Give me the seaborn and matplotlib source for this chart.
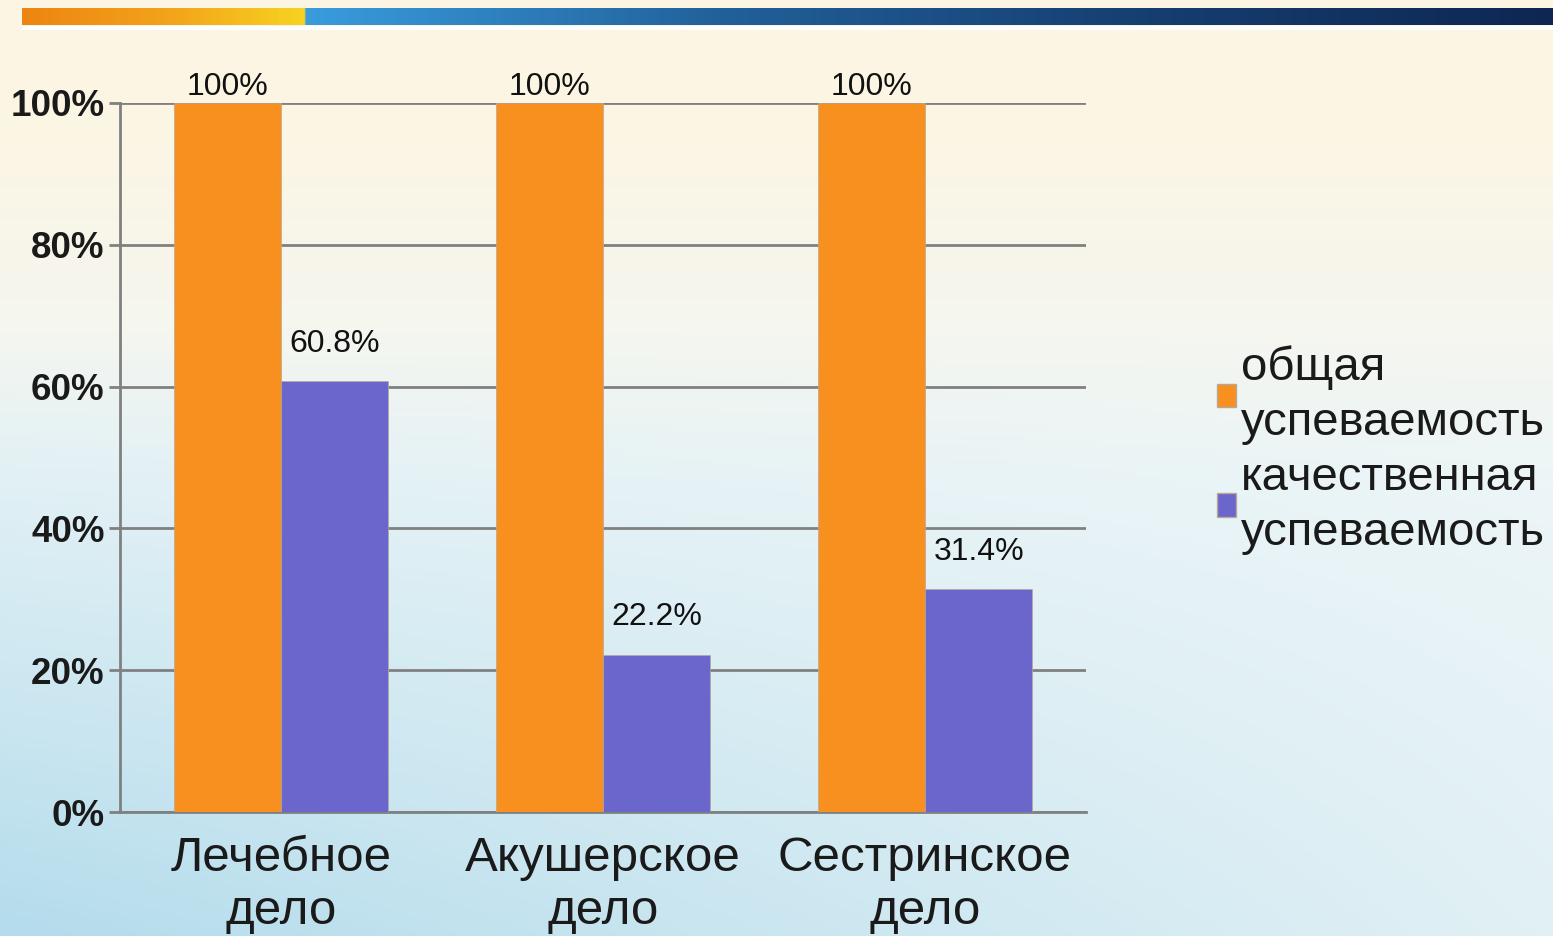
import numpy as np
import pandas as pd
import seaborn as sns
import matplotlib
matplotlib.use('Agg')
import matplotlib.pyplot as plt
from matplotlib.colors import LinearSegmentedColormap
from matplotlib.patches import Patch

categories = ['Лечебное\nдело', 'Акушерское\nдело', 'Сестринское\nдело']
series = ['общая\nуспеваемость', 'качественная\nуспеваемость']
total_vals = [100, 100, 100]
quality_vals = [60.8, 22.2, 31.4]
yticks = [0, 20, 40, 60, 80, 100]

orange = '#F7901E'
purple = '#6B66CC'

df = pd.DataFrame({
    'cat': categories * 2,
    'series': [series[0]] * 3 + [series[1]] * 3,
    'val': total_vals + quality_vals,
})

sns.set_style('white')
plt.rcParams['font.family'] = ['Liberation Sans', 'DejaVu Sans']

fig = plt.figure(figsize=(15.53, 9.36), dpi=100)

# background: cream at top fading to pale blue-white, stronger blue bottom-left
bg = fig.add_axes([0, 0, 1, 1], zorder=-5)
h, w = 200, 320
yy, xx = np.mgrid[0:1:h * 1j, 0:1:w * 1j]
cream = np.array([252, 245, 227]) / 255
pale = np.array([240, 247, 248]) / 255
blue = np.array([180, 220, 236]) / 255
t1 = np.clip((yy - 0.12) / 0.4, 0, 1)[..., None]
base = cream * (1 - t1) + pale * t1
t2 = (np.clip((yy - 0.35) / 0.65, 0, 1) * np.clip(1.0 - 0.75 * xx, 0, 1))[..., None]
img = base * (1 - t2) + blue * t2
bg.imshow(img, aspect='auto', extent=[0, 1, 0, 1], origin='upper')
bg.set_xlim(0, 1)
bg.set_ylim(0, 1)
bg.axis('off')

# header strip
hd = fig.add_axes([22 / 1553, 1 - 25 / 936, 1 - 22 / 1553, 17 / 936], zorder=-4)
cm_o = LinearSegmentedColormap.from_list('o', ['#EE8512', '#F2A21A', '#F8D321'])
cm_b = LinearSegmentedColormap.from_list('b', ['#3A9CDD', '#21609A', '#163F72', '#0E2752'])
split = (305 - 22) / (1553 - 22)
xs = np.linspace(0, 1, 600)
strip = np.where(xs[:, None] < split,
                 cm_o(np.clip(xs / split, 0, 1))[:, :3],
                 cm_b(np.clip((xs - split) / (1 - split), 0, 1))[:, :3])
hd.imshow(strip[None, :, :], aspect='auto', extent=[0, 1, 0, 1])
hd.axis('off')
wl = fig.add_axes([22 / 1553, 1 - 30 / 936, 1 - 22 / 1553, 4 / 936], zorder=-4)
wl.set_facecolor('white')
wl.set_xticks([])
wl.set_yticks([])
for s in wl.spines.values():
    s.set_visible(False)

ax = fig.add_axes([120 / 1553, 1 - 812 / 936, (1086 - 120) / 1553, (812 - 103) / 936])
ax.patch.set_alpha(0)

sns.barplot(data=df, x='cat', y='val', hue='series', palette=[orange, purple],
            saturation=1, width=2 / 3, ax=ax, legend=False, zorder=3,
            edgecolor='#b8a898', linewidth=0.5)

ax.set_xlim(-0.5, 2.5)
ax.set_ylim(0, 100)
ax.set_yticks(yticks)
ax.set_yticklabels([f'{v}%' for v in yticks], fontsize=26.5, fontweight='bold', color='#1a1a1a')
ax.yaxis.grid(True, color='#808080', linewidth=2, zorder=0)
ax.set_axisbelow(True)
ax.set_xlabel('')
ax.set_ylabel('')
ax.tick_params(axis='x', which='major', length=0, labelsize=35.5, pad=17, labelcolor='#1a1a1a')
ax.set_xticks([-0.5, 0.5, 1.5, 2.5], minor=True)
ax.tick_params(axis='x', which='minor', length=8, width=2, color='#808080', direction='out')
ax.tick_params(axis='y', length=8, width=2, color='#808080', direction='out', pad=3, left=True)
for lab in ax.get_xticklabels():
    lab.set_linespacing(1.25)

for side in ['top', 'right']:
    ax.spines[side].set_visible(False)
for side in ['left', 'bottom']:
    ax.spines[side].set_color('#808080')
    ax.spines[side].set_linewidth(2)

c0, c1 = ax.containers[0], ax.containers[1]
ax.bar_label(c0, labels=[f'{v:g}%' for v in total_vals], padding=1, fontsize=23, color='#111111')
ax.bar_label(c1, labels=[f'{v:.1f}%' for v in quality_vals], padding=16, fontsize=23, color='#111111')

handles = [Patch(facecolor=orange, edgecolor='#b8a898'), Patch(facecolor=purple, edgecolor='#b8a898')]
leg = fig.legend(handles, series, loc='upper left', bbox_to_anchor=(1193 / 1553, 1 - 322 / 936),
                 frameon=False, fontsize=34, handlelength=0.4, handleheight=0.4,
                 handletextpad=0.12, labelspacing=0.22, borderpad=0, labelcolor='#1a1a1a')
for txt in leg.get_texts():
    txt.set_linespacing(1.32)

fig.savefig('out.png', dpi=100)
